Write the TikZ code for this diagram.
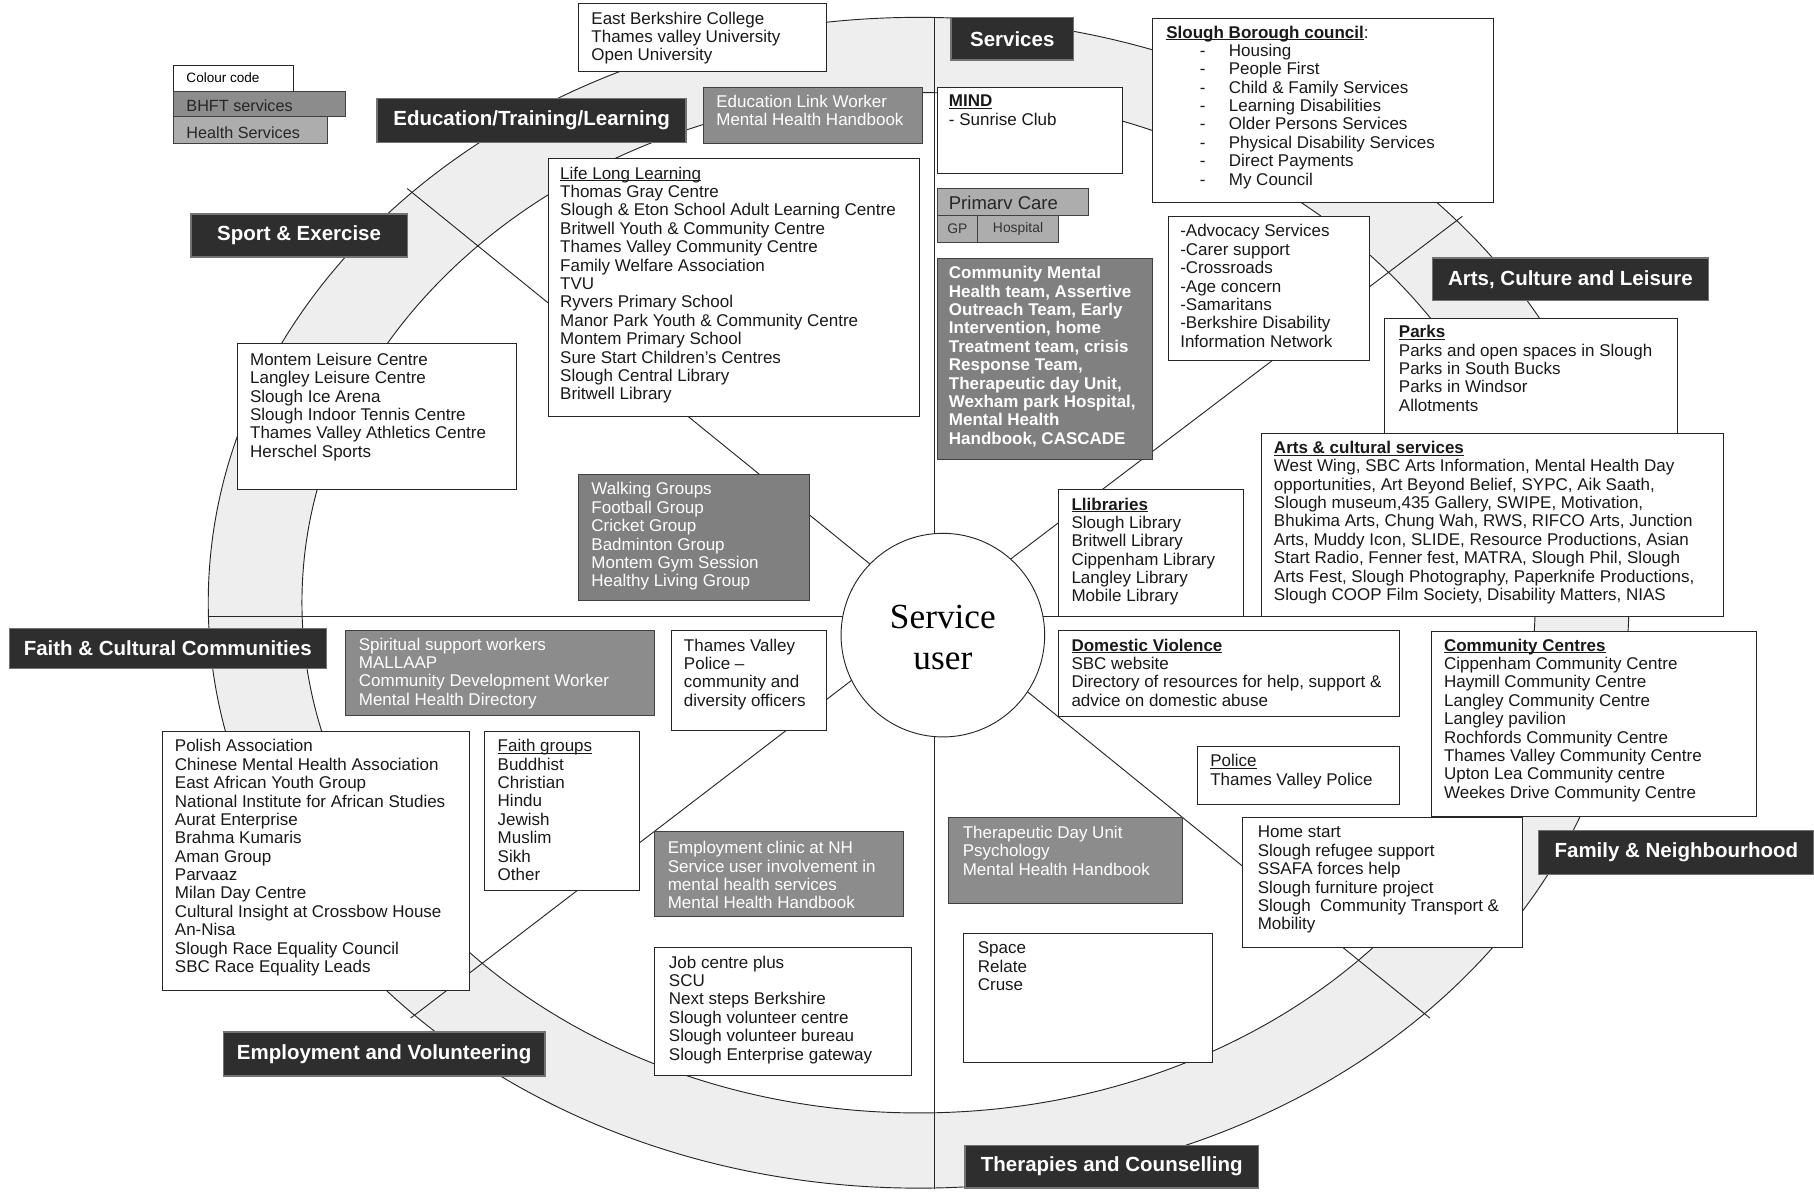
\documentclass[tikz,border=0pt]{standalone}
\usepackage{fontspec}
\setmainfont{Liberation Sans}
\newfontfamily\serifrm{Liberation Serif}
\definecolor{ringgray}{gray}{0.935}
\definecolor{labgray}{gray}{0.18}
\definecolor{bhftgray}{gray}{0.55}
\definecolor{darkgray}{gray}{0.5}
\definecolor{healthgray}{gray}{0.68}
\definecolor{lncol}{gray}{0.15}
\newcommand\bx[6]{\node[#6, anchor=north west, minimum width={(#4-#2)*1pt}, minimum height={(#5-#3)*1pt}] (#1) at (#2,#3) {};}
\newcommand\lb[6]{\node[#6, minimum width={(#4-#2)*1pt}, minimum height={(#5-#3)*1pt}] (#1) at ({(#2+#4)/2},{(#3+#5)/2}) {};}
\newcommand\tx[5]{\node[#4, anchor=north west, inner sep=0pt, align=left] (#1) at (#2,#3) {#5};}
\newcommand\myul[1]{\setbox0\hbox{#1}\rlap{\rule[-1.8pt]{\wd0}{0.75pt}}\box0}
\newcommand\bu[1]{\myul{\bfseries #1}}
\tikzset{
  ln/.style={draw=lncol, line width=0.8pt},
  wbox/.style={draw=lncol, fill=white, line width=0.8pt, inner sep=0pt, outer sep=0pt},
  bhft/.style={draw=black!75, fill=bhftgray, line width=0.8pt, inner sep=0pt, outer sep=0pt},
  dbhft/.style={draw=black!75, fill=darkgray, line width=0.8pt, inner sep=0pt, outer sep=0pt},
  hbox/.style={draw=black!75, fill=healthgray, line width=0.8pt, inner sep=0pt, outer sep=0pt},
  lab/.style={draw=black!55, fill=labgray, line width=1.2pt, inner sep=0pt, outer sep=0pt, text=white, font=\bfseries\fontsize{17.7}{20}\selectfont},
  body/.style={font=\fontsize{14.7}{15.9}\selectfont, text=black!90},
  wbody/.style={font=\fontsize{14.7}{15.9}\selectfont, text=white},
  wbold/.style={font=\bfseries\fontsize{14.7}{15.9}\selectfont, text=white},
}
\begin{document}
\begin{tikzpicture}[x=1pt,y=-1pt]
\fill[white] (0,0) rectangle (1568,1030);
\useasboundingbox (0,0) rectangle (1568,1030);
% ring
\fill[ringgray, even odd rule] (794,521) ellipse [x radius=614pt, y radius=506pt] (794,521) ellipse [x radius=533pt, y radius=441pt];
\draw[ln] (794,521) ellipse [x radius=614pt, y radius=506pt];
\draw[ln] (794,521) ellipse [x radius=533pt, y radius=441pt];
% spokes
\coordinate (O) at (808,533);
\draw[ln] (808,15) -- (O) -- (808,1028);
\draw[ln] (180,533) -- (O) -- (1408,533);
\draw[ln] (352,163) -- (O) -- (1236,880);
\draw[ln] (1264,187) -- (O) -- (355,880);
% centre
\node[circle, draw=lncol, fill=white, line width=0.8pt, minimum size=176pt, inner sep=0pt] (su) at (815,549) {};
\node[font=\serifrm\fontsize{30.5}{35}\selectfont, align=center, inner sep=0pt] (sut) at (815,551) {Service\\user};

% colour code
\bx{cc0}{150}{57}{254}{79}{wbox}
\tx{cc0t}{161}{63}{font=\fontsize{11.7}{13}\selectfont}{Colour code}
\bx{cc1}{150}{79}{299}{101}{bhft}
\tx{cc1t}{161}{86}{font=\fontsize{14}{15}\selectfont, text=black!85}{BHFT services}
\bx{cc2}{150}{101}{283}{124}{hbox}
\tx{cc2t}{161}{109}{font=\fontsize{14}{15}\selectfont, text=black!85}{Health Services}

% category labels
\lb{Ledu}{326}{85}{593}{123}{lab}
\node[lab, draw=none, fill=none] at (Ledu) {Education/Training/Learning};
\lb{Lserv}{822}{15}{928}{52}{lab}
\node[lab, draw=none, fill=none] at (Lserv) {Services};
\lb{Lsport}{165}{185}{352}{222}{lab}
\node[lab, draw=none, fill=none] at (Lsport) {Sport \& Exercise};
\lb{Larts}{1238}{223}{1477}{260}{lab}
\node[lab, draw=none, fill=none] at (Larts) {Arts, Culture and Leisure};
\lb{Lfaith}{8}{543}{282}{578}{lab}
\node[lab, draw=none, fill=none] at (Lfaith) {Faith \& Cultural Communities};
\lb{Lfam}{1330}{718}{1568}{756}{lab}
\node[lab, draw=none, fill=none] at (Lfam) {Family \& Neighbourhood};
\lb{Lemp}{193}{892}{471}{930}{lab}
\node[lab, draw=none, fill=none] at (Lemp) {Employment and Volunteering};
\lb{Lther}{834}{990}{1088}{1027}{lab}
\node[lab, draw=none, fill=none] at (Lther) {Therapies and Counselling};

% white boxes
\bx{eb}{500}{3}{714}{62}{wbox}
\tx{ebt}{511}{10}{body}{East Berkshire College\\Thames valley University\\Open University}

\bx{mind}{810}{76}{970}{150}{wbox}
\tx{mindt}{820}{82}{body}{\bu{MIND}\\- Sunrise Club}

\bx{sbc}{996}{16}{1291}{175}{wbox}
\tx{sbct}{1008}{22}{body}{\bu{Slough Borough council}:\\
\hspace*{29pt}\makebox[25pt][l]{-}Housing\\
\hspace*{29pt}\makebox[25pt][l]{-}People First\\
\hspace*{29pt}\makebox[25pt][l]{-}Child \& Family Services\\
\hspace*{29pt}\makebox[25pt][l]{-}Learning Disabilities\\
\hspace*{29pt}\makebox[25pt][l]{-}Older Persons Services\\
\hspace*{29pt}\makebox[25pt][l]{-}Physical Disability Services\\
\hspace*{29pt}\makebox[25pt][l]{-}Direct Payments\\
\hspace*{29pt}\makebox[25pt][l]{-}My Council}

\bx{adv}{1010}{187}{1184}{312}{wbox}
\tx{advt}{1020}{194}{body}{-Advocacy Services\\-Carer support\\-Crossroads\\-Age concern\\-Samaritans\\-Berkshire Disability\\Information Network}

\bx{parks}{1197}{275}{1450}{375}{wbox}
\tx{parkst}{1209}{281}{body}{\bu{Parks}\\Parks and open spaces in Slough\\Parks in South Bucks\\Parks in Windsor\\Allotments}

\bx{arts}{1090}{375}{1490}{533}{wbox}
\tx{artst}{1101}{381}{body}{\bu{Arts \& cultural services}\\
West Wing, SBC Arts Information, Mental Health Day\\
opportunities, Art Beyond Belief, SYPC, Aik Saath,\\
Slough museum,435 Gallery, SWIPE, Motivation,\\
Bhukima Arts, Chung Wah, RWS, RIFCO Arts, Junction\\
Arts, Muddy Icon, SLIDE, Resource Productions, Asian\\
Start Radio, Fenner fest, MATRA, Slough Phil, Slough\\
Arts Fest, Slough Photography, Paperknife Productions,\\
Slough COOP Film Society, Disability Matters, NIAS}

\bx{lib}{915}{423}{1075}{533}{wbox}
\tx{libt}{926}{430}{body}{\bu{Llibraries}\\Slough Library\\Britwell Library\\Cippenham Library\\Langley Library\\Mobile Library}

\bx{lll}{474}{137}{795}{360}{wbox}
\tx{lllt}{484}{144}{body}{\myul{Life Long Learning}\\Thomas Gray Centre\\Slough \& Eton School Adult Learning Centre\\Britwell Youth \& Community Centre\\Thames Valley Community Centre\\Family Welfare Association\\TVU\\Ryvers Primary School\\Manor Park Youth \& Community Centre\\Montem Primary School\\Sure Start Children's Centres\\Slough Central Library\\Britwell Library}

\bx{mont}{205}{297}{446}{423}{wbox}
\tx{montt}{216}{305}{body}{Montem Leisure Centre\\Langley Leisure Centre\\Slough Ice Arena\\Slough Indoor Tennis Centre\\Thames Valley Athletics Centre\\Herschel Sports}

\bx{tvp}{580}{545}{714}{631}{wbox}
\tx{tvpt}{591}{552}{body}{Thames Valley\\Police –\\community and\\diversity officers}

\bx{dv}{915}{545}{1210}{619}{wbox}
\tx{dvt}{926}{552}{body}{\bu{Domestic Violence}\\SBC website\\Directory of resources for help, support \&\\advice on domestic abuse}

\bx{ccn}{1237}{546}{1518}{706}{wbox}
\tx{ccnt}{1248}{552}{body}{\bu{Community Centres}\\Cippenham Community Centre\\Haymill Community Centre\\Langley Community Centre\\Langley pavilion\\Rochfords Community Centre\\Thames Valley Community Centre\\Upton Lea Community centre\\Weekes Drive Community Centre}

\bx{pol}{1035}{645}{1210}{695}{wbox}
\tx{polt}{1046}{652}{body}{\myul{Police}\\Thames Valley Police}

\bx{polish}{140}{632}{406}{856}{wbox}
\tx{polisht}{151}{639}{body}{Polish Association\\Chinese Mental Health Association\\East African Youth Group\\National Institute for African Studies\\Aurat Enterprise\\Brahma Kumaris\\Aman Group\\Parvaaz\\Milan Day Centre\\Cultural Insight at Crossbow House\\An-Nisa\\Slough Race Equality Council\\SBC Race Equality Leads}

\bx{fg}{419}{632}{553}{770}{wbox}
\tx{fgt}{430}{639}{body}{\myul{Faith groups}\\Buddhist\\Christian\\Hindu\\Jewish\\Muslim\\Sikh\\Other}

\bx{hs}{1074}{707}{1316}{819}{wbox}
\tx{hst}{1087}{714}{body}{Home start\\Slough refugee support\\SSAFA forces help\\Slough furniture project\\Slough\ \ Community Transport \&\\Mobility}

\bx{sp}{833}{807}{1048}{918}{wbox}
\tx{spt}{845}{814}{body}{Space\\Relate\\Cruse}

\bx{jc}{566}{819}{788}{930}{wbox}
\tx{jct}{578}{826}{body}{Job centre plus\\SCU\\Next steps Berkshire\\Slough volunteer centre\\Slough volunteer bureau\\Slough Enterprise gateway}

% BHFT (grey) boxes
\bx{elw}{608}{76}{797}{124}{bhft}
\tx{elwt}{619}{82}{wbody}{Education Link Worker\\Mental Health Handbook}

\bx{walk}{500}{410}{700}{519}{dbhft}
\tx{walkt}{511}{417}{wbody}{Walking Groups\\Football Group\\Cricket Group\\Badminton Group\\Montem Gym Session\\Healthy Living Group}

\bx{spir}{299}{545}{566}{618}{bhft}
\tx{spirt}{310}{551}{wbody}{Spiritual support workers\\MALLAAP\\Community Development Worker\\Mental Health Directory}

\bx{ecl}{566}{719}{781}{792}{bhft}
\tx{eclt}{577}{727}{wbody}{Employment clinic at NH\\Service user involvement in\\mental health services\\Mental Health Handbook}

\bx{tdu}{820}{707}{1022}{781}{bhft}
\tx{tdut}{832}{714}{wbody}{Therapeutic Day Unit\\Psychology\\Mental Health Handbook}

\bx{cmh}{810}{223}{996}{397}{dbhft}
\tx{cmht}{820}{230}{wbold}{Community Mental\\Health team, Assertive\\Outreach Team, Early\\Intervention, home\\Treatment team, crisis\\Response Team,\\Therapeutic day Unit,\\Wexham park Hospital,\\Mental Health\\Handbook, CASCADE}

% health services boxes
\bx{pc}{810}{163}{941}{186}{hbox}
\tx{pct}{820}{169}{font=\fontsize{16}{17}\selectfont, text=black!85}{Primarv Care}
\bx{gp}{810}{186}{845}{210}{hbox}
\node[font=\fontsize{12}{13}\selectfont, text=black!80, inner sep=0pt] (gpt) at (gp) {GP};
\bx{hosp}{845}{186}{915}{210}{hbox}
\node[font=\fontsize{12}{13}\selectfont, text=black!80, inner sep=0pt] (hospt) at (hosp) {Hospital};
\end{tikzpicture}
\end{document}
